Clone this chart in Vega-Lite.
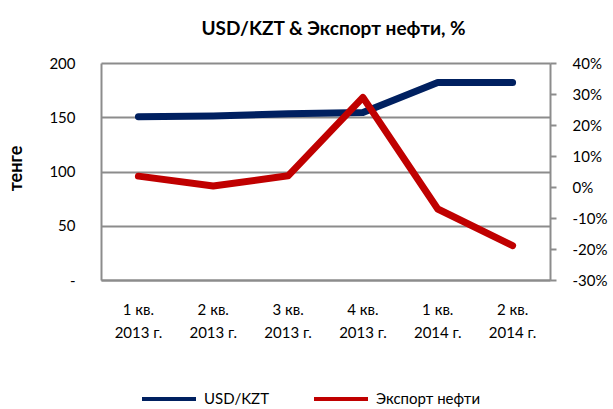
{
  "$schema": "https://vega.github.io/schema/vega-lite/v6.json",
  "width": 449,
  "height": 217,
  "autosize": "none",
  "padding": {"left": 101, "top": 63, "right": 63, "bottom": 129},
  "background": "white",
  "title": {
    "text": "USD/KZT & Экспорт нефти, %",
    "font": "Lato",
    "fontSize": 19,
    "fontWeight": "bold",
    "color": "#000000",
    "anchor": "middle",
    "dx": 8,
    "offset": 17
  },
  "config": {
    "font": "Lato",
    "view": {"stroke": null},
    "axis": {
      "labelFont": "Lato",
      "labelFontSize": 15,
      "labelColor": "#000000",
      "gridColor": "#8c8c8c",
      "gridWidth": 2,
      "domainColor": "#8c8c8c",
      "domainWidth": 2,
      "tickColor": "#8c8c8c",
      "tickWidth": 2
    }
  },
  "data": {
    "values": [
      {"q": "1 кв. 2013 г.", "series": "USD/KZT", "value": 150.5},
      {"q": "2 кв. 2013 г.", "series": "USD/KZT", "value": 151.2},
      {"q": "3 кв. 2013 г.", "series": "USD/KZT", "value": 153.2},
      {"q": "4 кв. 2013 г.", "series": "USD/KZT", "value": 154.3},
      {"q": "1 кв. 2014 г.", "series": "USD/KZT", "value": 182.0},
      {"q": "2 кв. 2014 г.", "series": "USD/KZT", "value": 182.0},
      {"q": "1 кв. 2013 г.", "series": "Экспорт нефти", "value": 3.5},
      {"q": "2 кв. 2013 г.", "series": "Экспорт нефти", "value": 0.3},
      {"q": "3 кв. 2013 г.", "series": "Экспорт нефти", "value": 3.6},
      {"q": "4 кв. 2013 г.", "series": "Экспорт нефти", "value": 28.9},
      {"q": "1 кв. 2014 г.", "series": "Экспорт нефти", "value": -7.1},
      {"q": "2 кв. 2014 г.", "series": "Экспорт нефти", "value": -18.9}
    ]
  },
  "encoding": {
    "x": {
      "field": "q",
      "type": "nominal",
      "sort": null,
      "scale": {"type": "band", "paddingInner": 0, "paddingOuter": 0},
      "axis": {
        "title": null,
        "labelAngle": 0,
        "ticks": false,
        "grid": false,
        "labelPadding": 34,
        "labelBaseline": "alphabetic",
        "labelLineHeight": 23,
        "labelExpr": "[slice(datum.label, 0, 5), slice(datum.label, 6)]"
      }
    },
    "color": {
      "field": "series",
      "type": "nominal",
      "sort": ["USD/KZT", "Экспорт нефти"],
      "scale": {"domain": ["USD/KZT", "Экспорт нефти"], "range": ["#002060", "#c00000"]},
      "legend": {
        "title": null,
        "orient": "none",
        "direction": "horizontal",
        "legendX": 39,
        "legendY": 307,
        "symbolType": "stroke",
        "symbolSize": 2916,
        "symbolStrokeWidth": 4,
        "labelFont": "Lato",
        "labelFontSize": 15,
        "labelColor": "#000000",
        "labelOffset": 6,
        "columnPadding": 36
      }
    }
  },
  "layer": [
    {
      "transform": [{"filter": "datum.series === 'USD/KZT'"}],
      "mark": {"type": "line", "strokeWidth": 7, "strokeCap": "round", "strokeJoin": "round"},
      "encoding": {
        "y": {
          "field": "value",
          "type": "quantitative",
          "scale": {"domain": [0, 200], "nice": false, "zero": false},
          "axis": {
            "title": "тенге",
            "titleFont": "Lato",
            "titleFontSize": 18,
            "titleFontWeight": "bold",
            "titleColor": "#000000",
            "titleAngle": 270,
            "titleAlign": "center",
            "titleBaseline": "middle",
            "titleX": -85,
            "titleY": 105,
            "values": [0, 50, 100, 150, 200],
            "labelExpr": "datum.value === 0 ? '-' : datum.label",
            "ticks": false,
            "labelPadding": 26,
            "grid": true,
            "orient": "left"
          }
        }
      }
    },
    {
      "transform": [{"filter": "datum.series === 'Экспорт нефти'"}],
      "mark": {"type": "line", "strokeWidth": 7, "strokeCap": "round", "strokeJoin": "round"},
      "encoding": {
        "y": {
          "field": "value",
          "type": "quantitative",
          "scale": {"domain": [-30, 40], "nice": false, "zero": false},
          "axis": {
            "title": null,
            "orient": "right",
            "values": [-30, -20, -10, 0, 10, 20, 30, 40],
            "labelExpr": "datum.value + '%'",
            "grid": false,
            "ticks": true,
            "tickSize": 6,
            "labelPadding": 16
          }
        }
      }
    }
  ],
  "resolve": {"scale": {"y": "independent"}}
}
